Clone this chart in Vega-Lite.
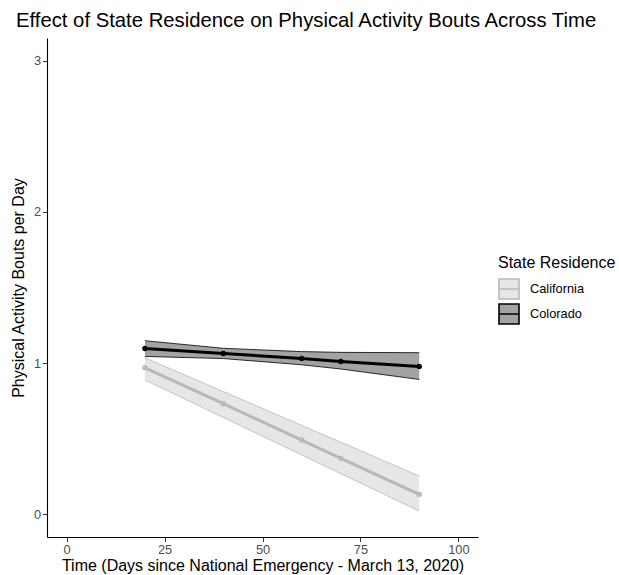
{
  "$schema": "https://vega.github.io/schema/vega-lite/v6.json",
  "width": 431,
  "height": 499,
  "autosize": {"type": "none"},
  "padding": {"left": 47, "top": 38, "right": 141, "bottom": 38},
  "background": "white",
  "title": {
    "text": "Effect of State Residence on Physical Activity Bouts Across Time",
    "anchor": "start",
    "frame": "group",
    "dx": -31,
    "offset": 7,
    "fontSize": 20.3,
    "font": "Liberation Sans",
    "fontWeight": "normal",
    "color": "black"
  },
  "config": {
    "view": {"stroke": null},
    "font": "Liberation Sans",
    "axis": {
      "domainColor": "black",
      "domainWidth": 1.1,
      "tickColor": "#333333",
      "tickWidth": 1,
      "tickSize": 4.5,
      "labelColor": "#4d4d4d",
      "labelFontSize": 12.8,
      "labelFont": "Liberation Sans",
      "titleFont": "Liberation Sans",
      "titleFontSize": 16,
      "titleFontWeight": "normal",
      "titleColor": "black",
      "grid": false,
      "labelPadding": 2
    },
    "legend": {
      "titleFont": "Liberation Sans",
      "titleFontSize": 16,
      "titleFontWeight": "normal",
      "titleColor": "black",
      "labelFont": "Liberation Sans",
      "labelFontSize": 12.8,
      "labelColor": "black",
      "symbolSize": 400,
      "symbolStrokeWidth": 1.6,
      "rowPadding": -5,
      "labelOffset": 10,
      "titlePadding": 7,
      "padding": 0
    }
  },
  "data": {
    "values": [
      {"state": "California", "day": 20, "est": 0.969, "lo": 0.888, "hi": 1.035},
      {"state": "California", "day": 40, "est": 0.732, "lo": 0.641, "hi": 0.812},
      {"state": "California", "day": 60, "est": 0.491, "lo": 0.393, "hi": 0.588},
      {"state": "California", "day": 70, "est": 0.370, "lo": 0.269, "hi": 0.477},
      {"state": "California", "day": 90, "est": 0.132, "lo": 0.022, "hi": 0.253},
      {"state": "Colorado", "day": 20, "est": 1.097, "lo": 1.044, "hi": 1.148},
      {"state": "Colorado", "day": 40, "est": 1.064, "lo": 1.030, "hi": 1.098},
      {"state": "Colorado", "day": 60, "est": 1.031, "lo": 0.989, "hi": 1.076},
      {"state": "Colorado", "day": 70, "est": 1.011, "lo": 0.961, "hi": 1.071},
      {"state": "Colorado", "day": 90, "est": 0.978, "lo": 0.892, "hi": 1.069}
    ]
  },
  "layer": [
    {
      "mark": {"type": "area", "opacity": 1},
      "encoding": {
        "x": {
          "field": "day",
          "type": "quantitative",
          "scale": {"domain": [-5, 105], "nice": false, "zero": false},
          "axis": {"values": [0, 25, 50, 75, 100], "title": "Time (Days since National Emergency - March 13, 2020)", "titlePadding": 2, "labelPadding": 1.5}
        },
        "y": {
          "field": "lo",
          "type": "quantitative",
          "scale": {"domain": [-0.15, 3.15], "nice": false, "zero": false},
          "axis": {"values": [0, 1, 2, 3], "format": "d", "title": "Physical Activity Bouts per Day", "titlePadding": 7}
        },
        "y2": {"field": "hi"},
        "fill": {
          "field": "state",
          "type": "nominal",
          "scale": {"domain": ["California", "Colorado"], "range": ["#e6e6e6", "#a3a3a3"]},
          "legend": {
            "title": "State Residence",
            "orient": "none",
            "legendX": 451,
            "legendY": 217,
            "symbolType": "M-1,-1H1V1H-1ZM-1,0H1"
          }
        }
      }
    },
    {
      "mark": {"type": "line", "strokeWidth": 0.8},
      "encoding": {
        "x": {"field": "day", "type": "quantitative"},
        "y": {"field": "hi", "type": "quantitative"},
        "stroke": {
          "field": "state",
          "type": "nominal",
          "scale": {"domain": ["California", "Colorado"], "range": ["#b8b8b8", "#000000"]},
          "legend": {
            "title": "State Residence",
            "orient": "none",
            "legendX": 451,
            "legendY": 217,
            "symbolType": "M-1,-1H1V1H-1ZM-1,0H1"
          }
        }
      }
    },
    {
      "mark": {"type": "line", "strokeWidth": 0.8},
      "encoding": {
        "x": {"field": "day", "type": "quantitative"},
        "y": {"field": "lo", "type": "quantitative"},
        "stroke": {"field": "state", "type": "nominal"}
      }
    },
    {
      "mark": {"type": "line", "strokeWidth": 3},
      "encoding": {
        "x": {"field": "day", "type": "quantitative"},
        "y": {"field": "est", "type": "quantitative"},
        "stroke": {"field": "state", "type": "nominal"}
      }
    },
    {
      "mark": {"type": "point", "filled": false, "size": 6, "strokeWidth": 3, "opacity": 1},
      "encoding": {
        "x": {"field": "day", "type": "quantitative"},
        "y": {"field": "est", "type": "quantitative"},
        "stroke": {"field": "state", "type": "nominal"}
      }
    }
  ]
}
